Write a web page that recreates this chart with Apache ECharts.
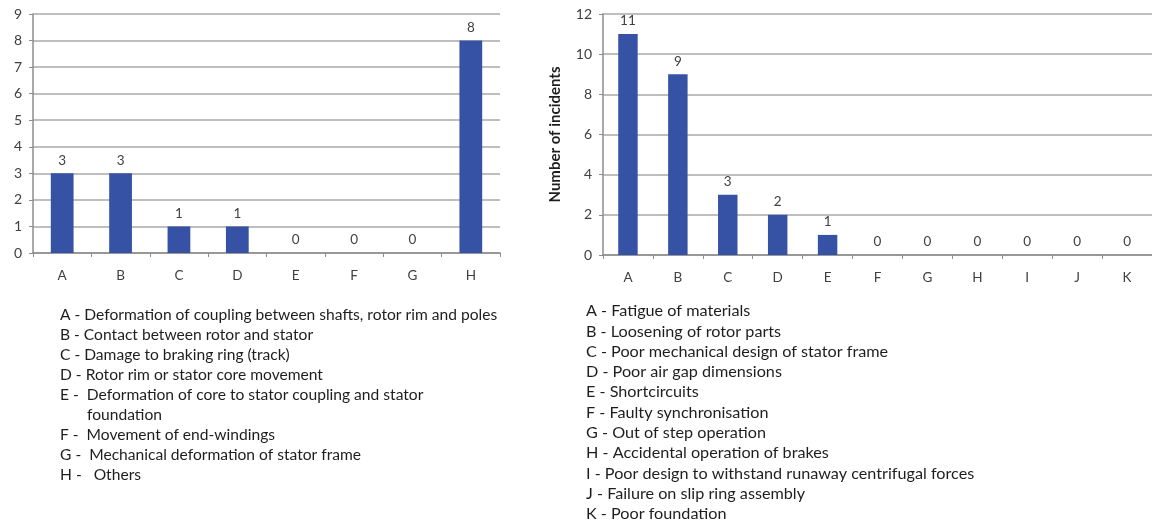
<!DOCTYPE html>
<html>
<head>
<meta charset="utf-8">
<script src="https://cdn.jsdelivr.net/npm/echarts@6/dist/echarts.min.js"></script>
<style>
  html, body { margin: 0; padding: 0; background: #fff; }
  #chart { width: 1152px; height: 524px; }
</style>
</head>
<body>
<div id="chart"></div>
<script>
// Mechanical damage causes (left) and incident causes (right)
const leftCategories = ['A', 'B', 'C', 'D', 'E', 'F', 'G', 'H'];
const leftValues = [3, 3, 1, 1, 0, 0, 0, 8];
const leftLegend = [
  'A - Deformation of coupling between shafts, rotor rim and poles',
  'B - Contact between rotor and stator',
  'C - Damage to braking ring (track)',
  'D - Rotor rim or stator core movement',
  'E -  Deformation of core to stator coupling and stator',
  'foundation',
  'F -  Movement of end-windings',
  'G -  Mechanical deformation of stator frame',
  'H -   Others'
];

const rightCategories = ['A', 'B', 'C', 'D', 'E', 'F', 'G', 'H', 'I', 'J', 'K'];
const rightValues = [11, 9, 3, 2, 1, 0, 0, 0, 0, 0, 0];
const rightAxisName = 'Number of incidents';
const rightLegend = [
  'A - Fatigue of materials',
  'B - Loosening of rotor parts',
  'C - Poor mechanical design of stator frame',
  'D - Poor air gap dimensions',
  'E - Shortcircuits',
  'F - Faulty synchronisation',
  'G - Out of step operation',
  'H - Accidental operation of brakes',
  'I - Poor design to withstand runaway centrifugal forces',
  'J - Failure on slip ring assembly',
  'K - Poor foundation'
];

const FONT = 'Lato, "Open Sans", sans-serif';
const BAR = '#3652A5';
const GRID_LINE = '#A8A8A8';
const AXIS_LINE = '#8C8C8C';
const LABEL = '#404040';

function catAxis(idx, cats) {
  return {
    type: 'category', gridIndex: idx, data: cats,
    axisLine: { lineStyle: { color: AXIS_LINE, width: 1.5 } },
    axisTick: { show: true, length: 4, lineStyle: { color: AXIS_LINE } },
    axisLabel: { color: LABEL, fontFamily: FONT, fontSize: 13.5, margin: 16 }
  };
}
function valAxis(idx, max, interval, extra) {
  return Object.assign({
    type: 'value', gridIndex: idx, min: 0, max: max, interval: interval,
    axisLine: { show: true, lineStyle: { color: AXIS_LINE, width: 1.5 } },
    axisTick: { show: true, length: 4, lineStyle: { color: AXIS_LINE } },
    splitLine: { lineStyle: { color: GRID_LINE, width: 1.5 } },
    axisLabel: { color: LABEL, fontFamily: FONT, fontSize: 14, margin: 11 }
  }, extra || {});
}
function barSeries(idx, values) {
  return {
    type: 'bar', xAxisIndex: idx, yAxisIndex: idx, data: values,
    barWidth: '39%',
    itemStyle: { color: BAR },
    label: { show: true, position: 'top', distance: 6, color: LABEL, fontFamily: FONT, fontSize: 13.5 }
  };
}

// Legend text blocks built from the line arrays
function legendBlock(lines, x0, y0, lineH, indent, size) {
  const out = [];
  lines.forEach(function (t, i) {
    const wrapped = !/^[A-Z] -/.test(t);
    out.push({
      type: 'text',
      left: x0 + (wrapped ? indent : 0),
      top: y0 + i * lineH,
      style: { text: t, fill: '#1E1E1E', font: size + 'px ' + FONT }
    });
  });
  return out;
}

const chart = echarts.init(document.getElementById('chart'), null, { renderer: 'canvas' });
chart.setOption({
  animation: false,
  grid: [
    { left: 33, top: 14, width: 467, height: 239 },
    { left: 603, top: 14, width: 552, height: 241 }
  ],
  xAxis: [catAxis(0, leftCategories), catAxis(1, rightCategories)],
  yAxis: [
    valAxis(0, 9, 1),
    valAxis(1, 12, 2, {
      name: rightAxisName, nameLocation: 'middle', nameGap: 40, nameRotate: 90,
      nameTextStyle: { color: '#1E1E1E', fontFamily: FONT, fontSize: 15, fontWeight: 'bold' }
    })
  ],
  series: [barSeries(0, leftValues), barSeries(1, rightValues)],
  graphic: legendBlock(leftLegend, 60, 307, 20, 27, 15.6).concat(legendBlock(rightLegend, 586, 303, 20.3, 0, 16.2))
});
</script>
</body>
</html>
